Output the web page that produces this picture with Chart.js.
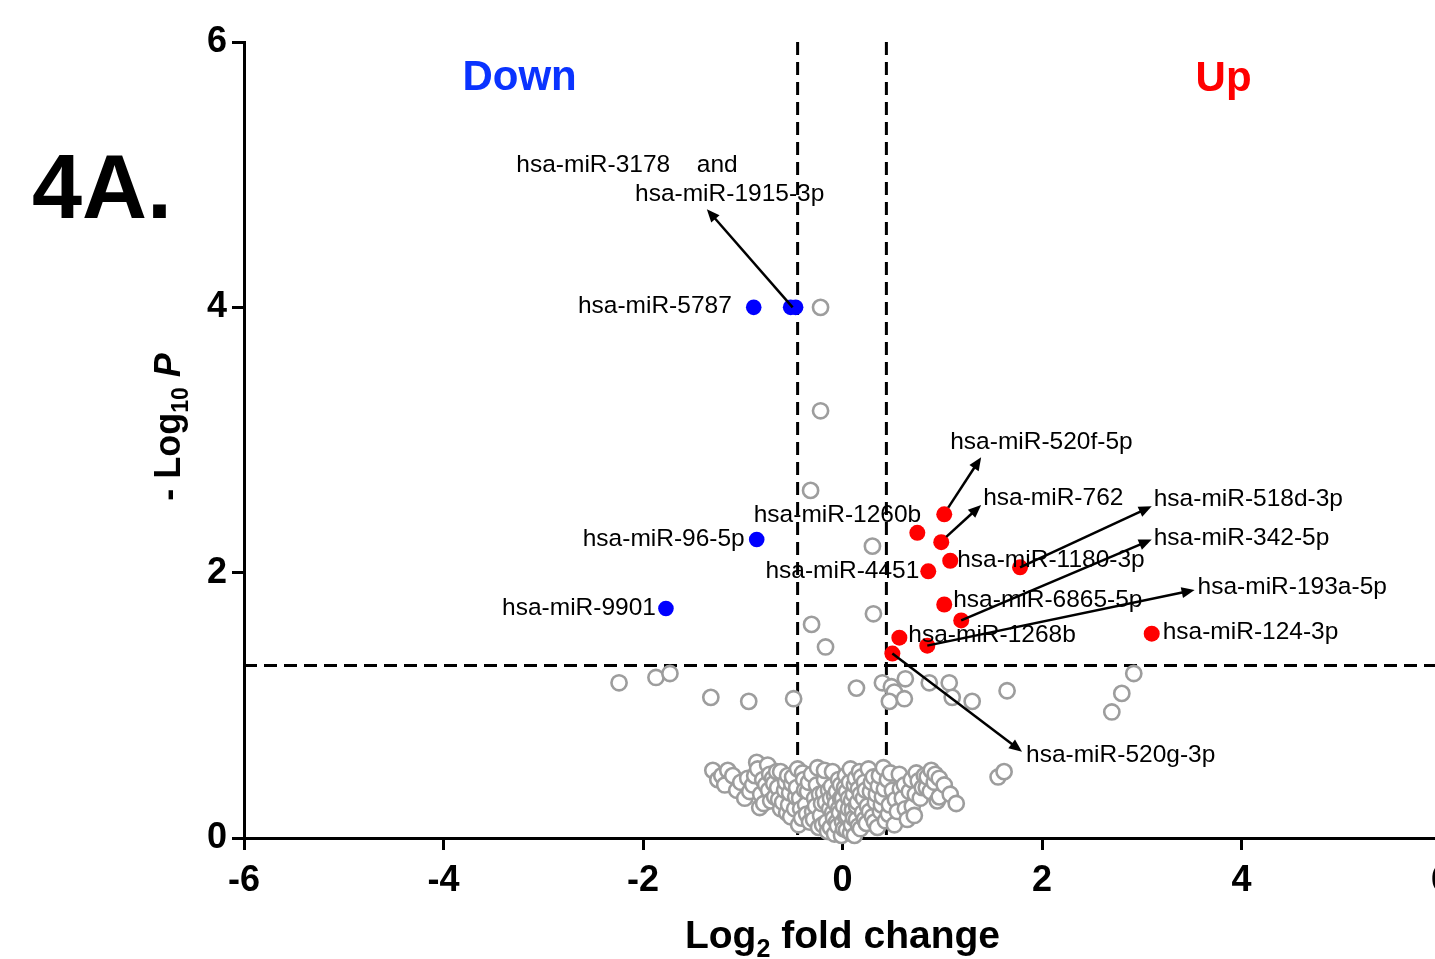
<!DOCTYPE html>
<html>
<head>
<meta charset="utf-8">
<title>4A volcano plot</title>
<script src="https://cdn.jsdelivr.net/npm/chart.js@4.4.1/dist/chart.umd.min.js"></script>
<style>
  html, body { margin: 0; padding: 0; background: #fff; overflow: hidden; }
  #wrap { position: relative; width: 1470px; height: 959px; }
</style>
</head>
<body>
<div id="wrap"><canvas id="volcano"></canvas></div>
<script>
// ---- data (log2 fold change, -log10 P) ----
const upX   = [1.02, 0.75, 0.99, 1.08, 0.86, 1.78, 1.02, 1.19, 0.57, 0.85, 0.50, 3.10];
const upY   = [2.44, 2.30, 2.23, 2.09, 2.01, 2.04, 1.76, 1.64, 1.51, 1.45, 1.39, 1.54];
const downX = [-0.89, -0.52, -0.47, -0.86, -1.77];
const downY = [4.00, 4.00, 4.00, 2.25, 1.73];

// not significant, the scattered ones
const nsOutliers = [
  [-0.22, 4.00], [-0.22, 3.22], [-0.32, 2.62], [0.30, 2.20], [0.31, 1.69], [-0.31, 1.61],
  [-0.17, 1.44], [-2.24, 1.17], [-1.87, 1.21], [-1.73, 1.24], [-1.32, 1.06], [-0.94, 1.03],
  [-0.49, 1.05], [0.14, 1.13], [0.40, 1.17], [0.49, 1.14], [0.52, 1.10], [0.47, 1.03],
  [0.63, 1.20], [0.62, 1.05], [0.87, 1.17], [1.07, 1.17], [1.10, 1.06], [1.30, 1.03],
  [1.65, 1.11], [2.92, 1.24], [2.80, 1.09], [2.70, 0.95], [1.56, 0.46], [1.62, 0.50]
];

// not significant, the dense cloud near zero
const nsCloud = [
  [-1.30, 0.51], [-1.25, 0.44], [-1.21, 0.47], [-1.18, 0.40], [-1.15, 0.51], [-1.10, 0.47],
  [-1.06, 0.36], [-1.02, 0.42], [-0.98, 0.30], [-0.95, 0.45], [-0.93, 0.35], [-0.90, 0.40],
  [-0.88, 0.47], [-0.86, 0.57], [-0.85, 0.52], [-0.83, 0.23], [-0.82, 0.33], [-0.80, 0.44],
  [-0.79, 0.26], [-0.77, 0.40], [-0.75, 0.55], [-0.74, 0.36], [-0.73, 0.48], [-0.72, 0.28],
  [-0.70, 0.45], [-0.69, 0.41], [-0.68, 0.31], [-0.66, 0.50], [-0.65, 0.38], [-0.64, 0.29],
  [-0.62, 0.50], [-0.62, 0.22], [-0.60, 0.27], [-0.58, 0.36], [-0.57, 0.42], [-0.56, 0.19],
  [-0.55, 0.47], [-0.54, 0.25], [-0.53, 0.34], [-0.52, 0.16], [-0.51, 0.41], [-0.50, 0.46],
  [-0.48, 0.22], [-0.47, 0.31], [-0.46, 0.38], [-0.45, 0.52], [-0.44, 0.10], [-0.43, 0.30],
  [-0.42, 0.22], [-0.41, 0.15], [-0.40, 0.49], [-0.39, 0.44], [-0.38, 0.36], [-0.37, 0.25],
  [-0.36, 0.18], [-0.35, 0.35], [-0.34, 0.42], [-0.33, 0.12], [-0.31, 0.48], [-0.30, 0.20],
  [-0.29, 0.14], [-0.28, 0.30], [-0.27, 0.24], [-0.26, 0.40], [-0.25, 0.53], [-0.24, 0.08],
  [-0.23, 0.33], [-0.22, 0.17], [-0.21, 0.26], [-0.20, 0.10], [-0.19, 0.34], [-0.18, 0.44],
  [-0.18, 0.51], [-0.17, 0.27], [-0.16, 0.12], [-0.15, 0.05], [-0.14, 0.36], [-0.13, 0.22],
  [-0.12, 0.30], [-0.12, 0.08], [-0.11, 0.39], [-0.10, 0.50], [-0.10, 0.19], [-0.09, 0.15],
  [-0.08, 0.03], [-0.08, 0.32], [-0.07, 0.26], [-0.06, 0.35], [-0.06, 0.12], [-0.05, 0.09],
  [-0.04, 0.44], [-0.04, 0.22], [-0.03, 0.19], [-0.02, 0.30], [-0.02, 0.40], [-0.01, 0.02],
  [0.00, 0.12], [0.00, 0.30], [0.01, 0.24], [0.01, 0.07], [0.02, 0.38], [0.03, 0.47],
  [0.03, 0.16], [0.04, 0.06], [0.04, 0.35], [0.05, 0.17], [0.06, 0.30], [0.06, 0.22],
  [0.07, 0.42], [0.08, 0.52], [0.08, 0.04], [0.09, 0.10], [0.09, 0.28], [0.10, 0.21],
  [0.11, 0.33], [0.11, 0.15], [0.12, 0.02], [0.12, 0.40], [0.13, 0.45], [0.14, 0.14],
  [0.14, 0.24], [0.15, 0.27], [0.16, 0.37], [0.16, 0.09], [0.17, 0.50], [0.18, 0.07],
  [0.18, 0.33], [0.19, 0.46], [0.20, 0.19], [0.21, 0.30], [0.22, 0.42], [0.22, 0.14],
  [0.23, 0.36], [0.24, 0.11], [0.25, 0.24], [0.26, 0.52], [0.27, 0.20], [0.28, 0.35],
  [0.29, 0.42], [0.30, 0.16], [0.31, 0.46], [0.32, 0.12], [0.33, 0.27], [0.34, 0.33],
  [0.35, 0.08], [0.36, 0.39], [0.37, 0.47], [0.38, 0.20], [0.39, 0.25], [0.40, 0.31],
  [0.41, 0.53], [0.42, 0.37], [0.43, 0.13], [0.45, 0.44], [0.46, 0.18], [0.47, 0.25],
  [0.48, 0.49], [0.50, 0.36], [0.52, 0.10], [0.53, 0.29], [0.55, 0.20], [0.57, 0.48],
  [0.58, 0.37], [0.60, 0.30], [0.62, 0.40], [0.63, 0.22], [0.65, 0.14], [0.67, 0.35],
  [0.69, 0.44], [0.70, 0.24], [0.72, 0.17], [0.73, 0.33], [0.74, 0.49], [0.76, 0.43],
  [0.78, 0.30], [0.80, 0.38], [0.82, 0.47], [0.84, 0.38], [0.85, 0.46], [0.88, 0.35],
  [0.89, 0.51], [0.92, 0.42], [0.93, 0.48], [0.95, 0.28], [0.97, 0.45], [0.97, 0.31],
  [1.02, 0.40], [1.08, 0.33], [1.14, 0.26]
];

const xTicks = [-6, -4, -2, 0, 2, 4, 6];
const yTicks = [0, 2, 4, 6];
const fcCutoffs = [-0.45, 0.44];
const pCutoff = 1.301;   // -log10(0.05)

// label text and where it sits (data units)
const callouts = [
  { text: 'hsa-miR-3178', x: -3.27, y: 5.07 },
  { text: 'and', x: -1.46, y: 5.07 },
  { text: 'hsa-miR-1915-3p', x: -2.08, y: 4.85 },
  { text: 'hsa-miR-5787', x: -1.11, y: 4.01, align: 'right' },
  { text: 'hsa-miR-96-5p', x: -0.98, y: 2.25, align: 'right' },
  { text: 'hsa-miR-9901', x: -1.87, y: 1.73, align: 'right' },
  { text: 'hsa-miR-520f-5p', x: 1.08, y: 2.98 },
  { text: 'hsa-miR-762', x: 1.41, y: 2.56 },
  { text: 'hsa-miR-1260b', x: -0.89, y: 2.43 },
  { text: 'hsa-miR-518d-3p', x: 3.12, y: 2.55 },
  { text: 'hsa-miR-342-5p', x: 3.12, y: 2.26 },
  { text: 'hsa-miR-1180-3p', x: 1.15, y: 2.09 },
  { text: 'hsa-miR-4451', x: 0.77, y: 2.01, align: 'right' },
  { text: 'hsa-miR-193a-5p', x: 3.56, y: 1.89 },
  { text: 'hsa-miR-6865-5p', x: 1.11, y: 1.79 },
  { text: 'hsa-miR-124-3p', x: 3.21, y: 1.55 },
  { text: 'hsa-miR-1268b', x: 0.66, y: 1.53 },
  { text: 'hsa-miR-520g-3p', x: 1.84, y: 0.62 }
];

// arrows: [fromX, fromY, toX, toY]
const arrows = [
  [-0.50, 4.00, -1.36, 4.74],
  [1.06, 2.49, 1.39, 2.87],
  [1.04, 2.27, 1.39, 2.51],
  [1.78, 2.04, 3.10, 2.50],
  [1.19, 1.64, 3.10, 2.25],
  [0.85, 1.45, 3.53, 1.87],
  [0.50, 1.39, 1.80, 0.65]
];

const FONT = 'Arial, "Liberation Sans", Helvetica, sans-serif';

function drawArrow(ctx, x1, y1, x2, y2) {
  const a = Math.atan2(y2 - y1, x2 - x1);
  const L = 13, W = 5.5;
  ctx.beginPath();
  ctx.moveTo(x1, y1);
  ctx.lineTo(x2 - L * 0.6 * Math.cos(a), y2 - L * 0.6 * Math.sin(a));
  ctx.stroke();
  ctx.beginPath();
  ctx.moveTo(x2, y2);
  ctx.lineTo(x2 - L * Math.cos(a) + W * Math.sin(a), y2 - L * Math.sin(a) - W * Math.cos(a));
  ctx.lineTo(x2 - L * Math.cos(a) - W * Math.sin(a), y2 - L * Math.sin(a) + W * Math.cos(a));
  ctx.closePath();
  ctx.fill();
}

function drawRun(ctx, parts, x, y) {
  // parts: {t, font, dy}; draws left to right from x on baseline y
  let cx = x;
  parts.forEach(p => {
    ctx.font = p.font;
    ctx.fillText(p.t, cx, y + (p.dy || 0));
    cx += ctx.measureText(p.t).width;
  });
}

function runWidth(ctx, parts) {
  let w = 0;
  parts.forEach(p => { ctx.font = p.font; w += ctx.measureText(p.t).width; });
  return w;
}

const cutoffLines = {
  id: 'cutoffLines',
  beforeDatasetsDraw(chart) {
    const { ctx, scales: { x, y } } = chart;
    ctx.save();
    ctx.strokeStyle = '#000';
    ctx.lineWidth = 3;
    ctx.setLineDash([13, 7]);
    fcCutoffs.forEach(v => {
      ctx.beginPath();
      ctx.moveTo(x.getPixelForValue(v), y.getPixelForValue(6));
      ctx.lineTo(x.getPixelForValue(v), y.getPixelForValue(0));
      ctx.stroke();
    });
    ctx.beginPath();
    ctx.moveTo(x.getPixelForValue(-6), y.getPixelForValue(pCutoff));
    ctx.lineTo(x.getPixelForValue(6), y.getPixelForValue(pCutoff));
    ctx.stroke();
    ctx.restore();
  }
};

const annotations = {
  id: 'annotations',
  afterDraw(chart) {
    const { ctx, scales: { x, y } } = chart;
    ctx.save();
    ctx.fillStyle = '#000';
    ctx.strokeStyle = '#000';
    ctx.lineWidth = 2.5;
    arrows.forEach(a => drawArrow(ctx, x.getPixelForValue(a[0]), y.getPixelForValue(a[1]),
                                       x.getPixelForValue(a[2]), y.getPixelForValue(a[3])));

    ctx.font = '24.5px ' + FONT;
    ctx.textBaseline = 'middle';
    callouts.forEach(c => {
      ctx.textAlign = c.align || 'left';
      ctx.fillText(c.text, x.getPixelForValue(c.x), y.getPixelForValue(c.y));
    });

    // Down / Up
    ctx.textAlign = 'left';
    ctx.textBaseline = 'alphabetic';
    ctx.font = 'bold 42px ' + FONT;
    ctx.fillStyle = '#0a33ff';
    ctx.fillText('Down', x.getPixelForValue(-3.81), 90);
    ctx.fillStyle = '#ff0000';
    ctx.fillText('Up', x.getPixelForValue(3.54), 91);

    // panel letter
    ctx.fillStyle = '#000';
    ctx.font = 'bold 90px ' + FONT;
    ctx.fillText('4A.', 32, 218);

    // x axis title
    const xParts = [
      { t: 'Log', font: 'bold 39px ' + FONT },
      { t: '2', font: 'bold 25px ' + FONT, dy: 9 },
      { t: ' fold change', font: 'bold 39px ' + FONT }
    ];
    const xw = runWidth(ctx, xParts);
    drawRun(ctx, xParts, x.getPixelForValue(0) - xw / 2, 948);

    // y axis title
    const yParts = [
      { t: '- Log', font: 'bold 36px ' + FONT },
      { t: '10', font: 'bold 23px ' + FONT, dy: 8 },
      { t: ' P', font: 'italic bold 36px ' + FONT }
    ];
    const yw = runWidth(ctx, yParts);
    ctx.translate(180, 427);
    ctx.rotate(-Math.PI / 2);
    drawRun(ctx, yParts, -yw / 2, 0);
    ctx.restore();
  }
};

const toPoints = (xs, ys) => xs.map((v, i) => ({ x: v, y: ys[i] }));
const toXY = arr => arr.map(p => ({ x: p[0], y: p[1] }));

const axisCommon = {
  grid: { display: true, drawOnChartArea: false, drawTicks: true, tickLength: 12, tickWidth: 3, tickColor: '#000' },
  border: { display: true, color: '#000', width: 3 },
  title: { display: false }
};

new Chart(document.getElementById('volcano').getContext('2d'), {
  type: 'scatter',
  data: {
    datasets: [
      {
        label: 'Up',
        data: toPoints(upX, upY),
        backgroundColor: '#ff0000',
        borderWidth: 0,
        pointRadius: 8
      },
      {
        label: 'Down',
        data: toPoints(downX, downY),
        backgroundColor: '#0000ff',
        borderWidth: 0,
        pointRadius: 7.8
      },
      {
        label: 'NS',
        data: toXY(nsCloud.concat(nsOutliers)),
        backgroundColor: '#ffffff',
        borderColor: '#9d9d9d',
        borderWidth: 2.6,
        pointRadius: 7.6
      }
    ]
  },
  options: {
    responsive: true,
    maintainAspectRatio: false,
    animation: false,
    clip: false,
    layout: { padding: { top: 42, right: 29, bottom: 0, left: 0 } },
    plugins: { legend: { display: false }, tooltip: { enabled: false } },
    scales: {
      x: {
        ...axisCommon,
        type: 'linear',
        min: -6,
        max: 6,
        afterBuildTicks: s => { s.ticks = xTicks.map(v => ({ value: v })); },
        afterFit: s => { s.height = 121; },
        ticks: { color: '#000', padding: 9, font: { family: FONT, size: 36, weight: 'bold' } }
      },
      y: {
        ...axisCommon,
        type: 'linear',
        min: 0,
        max: 6,
        afterBuildTicks: s => { s.ticks = yTicks.map(v => ({ value: v })); },
        afterFit: s => { s.width = 244; },
        ticks: { color: '#000', padding: 5, font: { family: FONT, size: 36, weight: 'bold' } }
      }
    }
  },
  plugins: [cutoffLines, annotations]
});
</script>
</body>
</html>
